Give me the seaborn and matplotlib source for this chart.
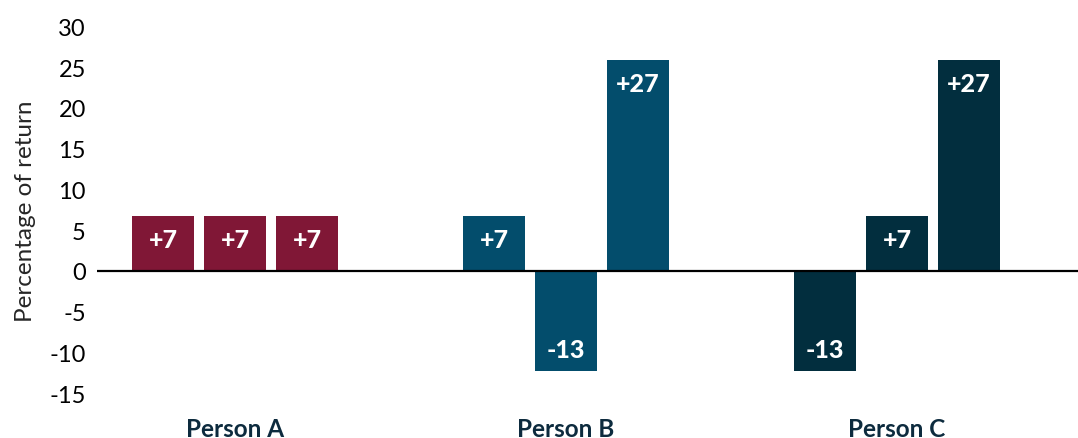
import numpy as np
import matplotlib
matplotlib.use("Agg")
import matplotlib.pyplot as plt
import pandas as pd
import seaborn as sns

# Chart data
people = ["Person A", "Person B", "Person C"]
slots = ["Year 1", "Year 2", "Year 3"]
# bar heights as drawn in the picture
returns_a = [6.7, 6.7, 6.7]
returns_b = [6.7, -12.3, 25.9]
returns_c = [-12.3, 6.7, 25.9]
# text written on the bars
labels_a = ["+7", "+7", "+7"]
labels_b = ["+7", "-13", "+27"]
labels_c = ["-13", "+7", "+27"]
yticks = [-15, -10, -5, 0, 5, 10, 15, 20, 25, 30]

group_colors = ["#801736", "#034D6C", "#022E3E"]

df = pd.DataFrame({
    "person": np.repeat(people, 3),
    "slot": slots * 3,
    "value": returns_a + returns_b + returns_c,
    "label": labels_a + labels_b + labels_c,
})

sns.set_style("white")
plt.rcParams["font.family"] = ["Lato", "DejaVu Sans"]

fig = plt.figure(figsize=(10.78, 4.39), dpi=100)
ax = fig.add_axes([0.09, 0.0645, 0.91, 0.9107])

sns.barplot(data=df, x="person", y="value", hue="slot", width=0.6525, gap=0.139,
            legend=False, ax=ax, saturation=1)

# colour bars by group and write the labels inside
bars = sorted(ax.patches, key=lambda p: p.get_x())
for bar, (_, row) in zip(bars, df.iterrows()):
    xc = bar.get_x() + bar.get_width() / 2
    bar.set_facecolor(group_colors[int(round(xc))])
    bar.set_edgecolor("none")
    h = bar.get_height()
    off = -17 if h > 0 else 16
    ax.annotate(row["label"], (xc, h), xytext=(0, off), textcoords="offset points",
                ha="center", va="center", color="white", fontsize=18, fontweight="black")

ax.axhline(0, color="black", lw=1.6, zorder=5)
ax.set_xlim(-0.417, 2.547)
ax.set_ylim(-17, 32)
ax.set_yticks(yticks)
ax.set_yticklabels([str(t) for t in yticks], fontsize=17)
ax.tick_params(axis="y", length=0, pad=8, colors="black")
ax.tick_params(axis="x", length=0, pad=5)
for lab in ax.get_xticklabels():
    lab.set_fontsize(17.5)
    lab.set_fontweight("bold")
    lab.set_color("#0d2b3e")
ax.set_xlabel("")
ax.set_ylabel("Percentage of return", fontsize=17.5, labelpad=10)
for s in ax.spines.values():
    s.set_visible(False)

plt.savefig("out.png", dpi=100)
